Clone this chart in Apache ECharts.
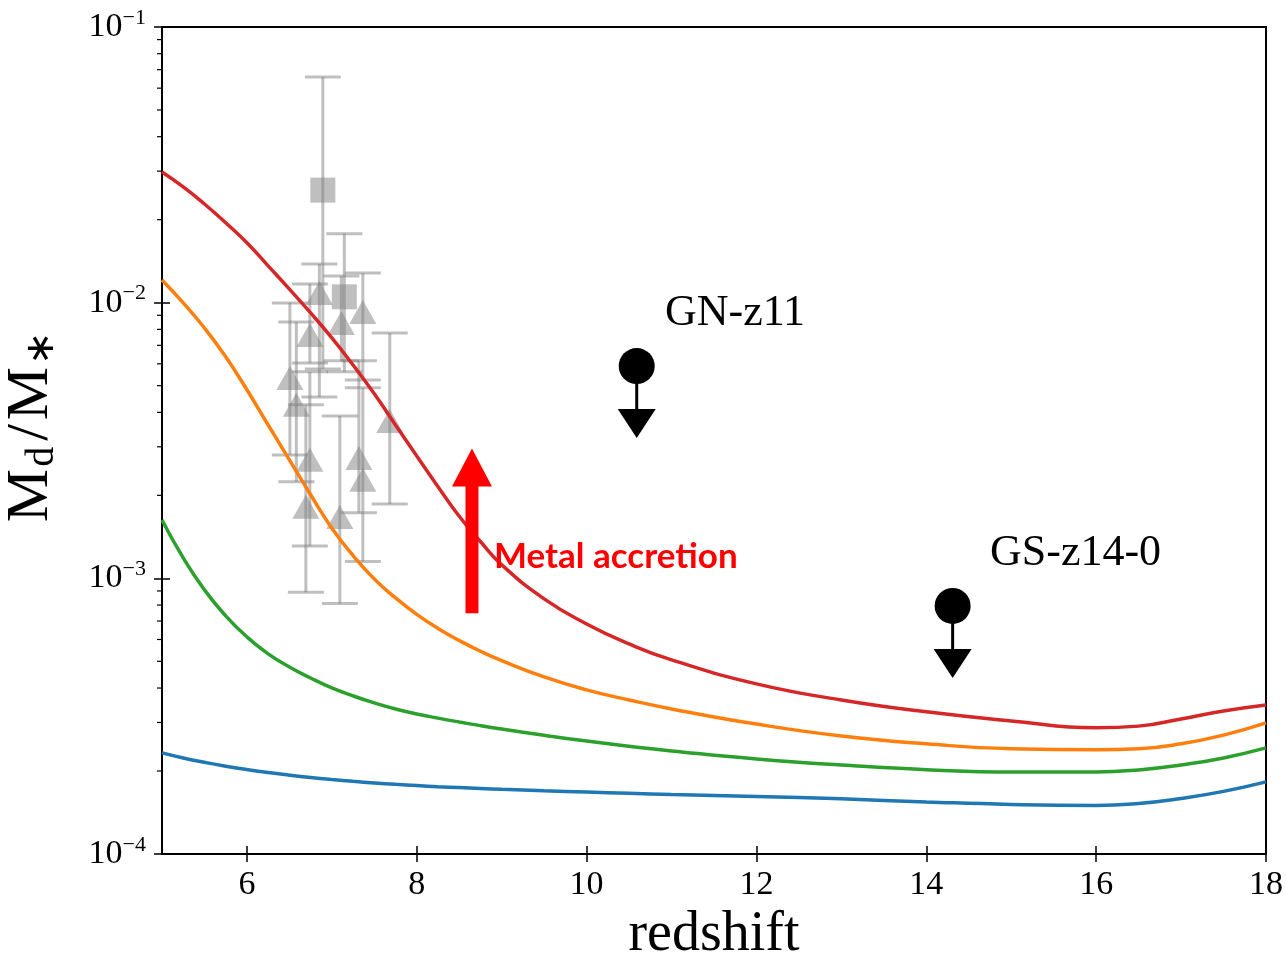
<!DOCTYPE html>
<html><head><meta charset="utf-8">
<script src="https://cdn.jsdelivr.net/npm/echarts@6/dist/echarts.min.js"></script>
<style>html,body{margin:0;padding:0;background:#fff}#c{width:1286px;height:956px}</style>
</head><body><div id="c"></div>
<script>
// ---------- data ----------
const redshift = [5, 5.25, 5.5, 5.75, 6, 6.25, 6.5, 6.75, 7, 7.25, 7.5, 7.75, 8, 8.25, 8.5, 8.75, 9, 9.5, 10, 10.5, 11, 12, 13, 14, 15, 16, 16.5, 17, 17.5, 18];
const modelBlue   = [2.327e-4, 2.231e-4, 2.151e-4, 2.082e-4, 2.024e-4, 1.974e-4, 1.932e-4, 1.895e-4, 1.863e-4, 1.835e-4, 1.811e-4, 1.789e-4, 1.771e-4, 1.755e-4, 1.741e-4, 1.728e-4, 1.716e-4, 1.695e-4, 1.677e-4, 1.660e-4, 1.644e-4, 1.618e-4, 1.585e-4, 1.545e-4, 1.513e-4, 1.501e-4, 1.526e-4, 1.591e-4, 1.687e-4, 1.826e-4];
const modelGreen  = [1.628e-3, 1.186e-3, 9.08e-4, 7.31e-4, 6.13e-4, 5.32e-4, 4.77e-4, 4.35e-4, 4.004e-4, 3.745e-4, 3.532e-4, 3.359e-4, 3.222e-4, 3.111e-4, 3.012e-4, 2.922e-4, 2.841e-4, 2.695e-4, 2.568e-4, 2.459e-4, 2.366e-4, 2.213e-4, 2.104e-4, 2.023e-4, 1.984e-4, 1.984e-4, 2.019e-4, 2.104e-4, 2.231e-4, 2.426e-4];
const modelOrange = [1.209e-2, 9.98e-3, 8.09e-3, 6.36e-3, 4.83e-3, 3.60e-3, 2.69e-3, 2.01e-3, 1.52e-3, 1.21e-3, 9.95e-4, 8.49e-4, 7.40e-4, 6.58e-4, 5.95e-4, 5.44e-4, 5.03e-4, 4.39e-4, 3.94e-4, 3.62e-4, 3.36e-4, 2.96e-4, 2.68e-4, 2.51e-4, 2.41e-4, 2.39e-4, 2.41e-4, 2.51e-4, 2.70e-4, 2.99e-4];
const modelRed    = [2.98e-2, 2.63e-2, 2.28e-2, 1.95e-2, 1.65e-2, 1.36e-2, 1.12e-2, 9.18e-3, 7.45e-3, 5.94e-3, 4.67e-3, 3.60e-3, 2.78e-3, 2.15e-3, 1.68e-3, 1.36e-3, 1.12e-3, 8.42e-4, 6.83e-4, 5.78e-4, 5.06e-4, 4.14e-4, 3.62e-4, 3.28e-4, 3.04e-4, 2.87e-4, 2.91e-4, 3.09e-4, 3.30e-4, 3.47e-4];

// observed galaxies (triangles)
const triZ   = [6.853, 7.365, 7.112, 6.741, 6.506, 6.582, 7.682, 6.741, 7.318, 7.365, 6.694, 7.094];
const triVal = [1.084e-2, 9.25e-3, 8.44e-3, 7.63e-3, 5.33e-3, 4.26e-3, 3.72e-3, 2.69e-3, 2.73e-3, 2.28e-3, 1.82e-3, 1.67e-3];
const triHi  = [1.381e-2, 1.281e-2, 1.250e-2, 1.169e-2, 9.98e-3, 8.51e-3, 7.76e-3, 5.61e-3, 6.15e-3, 4.91e-3, 4.26e-3, 3.88e-3];
const triLo  = [4.55e-3, 5.24e-3, 6.15e-3, 6.04e-3, 2.80e-3, 2.24e-3, 1.86e-3, 1.31e-3, 1.73e-3, 1.15e-3, 8.9e-4, 8.1e-4];
// observed galaxies (squares)
const sqZ   = [6.894, 7.147];
const sqVal = [2.56e-2, 1.05e-2];
const sqHi  = [6.59e-2, 1.78e-2];
const sqLo  = [5.75e-3, 5.61e-3];

// upper limits
const ulNames = ['GN-z11', 'GS-z14-0'];
const ulZ   = [10.59, 14.31];
const ulVal = [5.89e-3, 7.94e-4];

// metal accretion arrow
const arrowZ = [8.65];
const arrowFrom = [7.47e-4];
const arrowTo = [2.96e-3];

// ticks
const xTicks = [6, 8, 10, 12, 14, 16, 18];
const yMajor = [1e-4, 1e-3, 1e-2, 1e-1];
const minorMult = [2, 3, 4, 5, 6, 7, 8, 9];

// ---------- chart ----------
const SERIF = 'Liberation Serif';
const minorTicks = [];
yMajor.slice(0, 3).forEach(d => minorMult.forEach(m => minorTicks.push([5, m * d])));

const gray = 'rgba(128,128,128,0.5)';
const errData = [];
triZ.forEach((z, i) => errData.push([z, triLo[i], triHi[i]]));
sqZ.forEach((z, i) => errData.push([z, sqLo[i], sqHi[i]]));

const chart = echarts.init(document.getElementById('c'), null, {renderer: 'canvas'});

function yFmt(v) {
  const e = Math.round(Math.log10(v));
  return '{b|10}{s|\u2212' + (-e) + '}';
}

const xBase = {type: 'value', min: 5, max: 18, position: 'bottom', splitLine: {show: false}};
const yBase = {type: 'log', logBase: 10, min: 1e-4, max: 1e-1, position: 'left', splitLine: {show: false}};

function curve(name, vals, color) {
  return {type: 'line', name: name, z: 4, data: redshift.map((z, i) => [z, vals[i]]),
    smooth: 0.5, showSymbol: false, lineStyle: {color: color, width: 3.5}};
}

chart.setOption({
  animation: false,
  backgroundColor: '#fff',
  grid: {left: 162, right: 20, top: 27, bottom: 102, containLabel: false, outerBoundsMode: 'none',
         show: true, borderColor: '#000', borderWidth: 2, backgroundColor: 'transparent'},
  xAxis: [
    Object.assign({}, xBase, {
      axisLine: {show: true, lineStyle: {color: '#000', width: 2}},
      axisTick: {show: true, inside: false, length: 8, customValues: xTicks, lineStyle: {color: '#000', width: 1.5}},
      axisLabel: {customValues: xTicks, color: '#000', fontFamily: SERIF, fontSize: 34, margin: 14},
      name: 'redshift', nameLocation: 'middle', nameGap: 52,
      nameTextStyle: {color: '#000', fontFamily: SERIF, fontSize: 56}
    }),
    Object.assign({}, xBase, {
      axisLine: {show: false},
      axisTick: {show: true, inside: true, length: 8, customValues: xTicks, lineStyle: {color: '#000', width: 1.5}},
      axisLabel: {show: false}
    })
  ],
  yAxis: [
    Object.assign({}, yBase, {
      axisLine: {show: true, lineStyle: {color: '#000', width: 2}},
      axisTick: {show: true, inside: false, length: 8, lineStyle: {color: '#000', width: 1.5}},
      axisLabel: {
        formatter: yFmt, margin: 16,
        rich: {
          b: {fontFamily: SERIF, fontSize: 34, lineHeight: 40, color: '#000'},
          s: {fontFamily: SERIF, fontSize: 22, lineHeight: 22, verticalAlign: 'top', color: '#000'}
        }
      },
      name: '{m|M}{s|d}{sl|/}{m|M}{s|\u2217}', nameLocation: 'middle', nameGap: 100, nameRotate: 90,
      nameTextStyle: {
        padding: [0, 0, 0, 30],
        rich: {
          m: {fontFamily: SERIF, fontSize: 60, lineHeight: 62, color: '#000'},
          sl: {fontFamily: SERIF, fontSize: 60, lineHeight: 62, color: '#000', padding: [0, 4, 0, 4]},
          s: {fontFamily: SERIF, fontSize: 40, lineHeight: 40, verticalAlign: 'bottom', color: '#000', padding: [0, 2, 0, 2]}
        }
      }
    }),
    Object.assign({}, yBase, {
      axisLine: {show: false},
      axisTick: {show: true, inside: true, length: 8, lineStyle: {color: '#000', width: 1.5}},
      axisLabel: {show: false}
    })
  ],
  series: [
    {
      type: 'custom', name: 'errorbars', z: 2, clip: false,
      data: errData,
      renderItem: function (params, api) {
        const z = api.value(0);
        const lo = api.coord([z, api.value(1)]);
        const hi = api.coord([z, api.value(2)]);
        const cap = 18;
        const st = {stroke: gray, lineWidth: 3};
        return {type: 'group', children: [
          {type: 'line', shape: {x1: hi[0], y1: hi[1], x2: lo[0], y2: lo[1]}, style: st},
          {type: 'line', shape: {x1: hi[0] - cap, y1: hi[1], x2: hi[0] + cap, y2: hi[1]}, style: st},
          {type: 'line', shape: {x1: lo[0] - cap, y1: lo[1], x2: lo[0] + cap, y2: lo[1]}, style: st}
        ]};
      }
    },
    {
      type: 'scatter', name: 'triangles', z: 3, symbol: 'triangle', symbolSize: [27, 24],
      itemStyle: {color: gray, opacity: 1},
      data: triZ.map((z, i) => [z, triVal[i]])
    },
    {
      type: 'scatter', name: 'squares', z: 3, symbol: 'rect', symbolSize: 25,
      itemStyle: {color: gray, opacity: 1},
      data: sqZ.map((z, i) => [z, sqVal[i]])
    },
    curve('blue', modelBlue, '#1f77b4'),
    curve('orange', modelOrange, '#ff7f0e'),
    curve('green', modelGreen, '#2ca02c'),
    curve('red', modelRed, '#d62728'),
    {
      type: 'custom', name: 'upper limits', z: 5, clip: false,
      data: ulZ.map((z, i) => [z, ulVal[i]]),
      renderItem: function (params, api) {
        const p = api.coord([api.value(0), api.value(1)]);
        return {type: 'group', children: [
          {type: 'line', shape: {x1: p[0], y1: p[1], x2: p[0], y2: p[1] + 50}, style: {stroke: '#000', lineWidth: 3}},
          {type: 'polygon', shape: {points: [[p[0] - 19, p[1] + 43], [p[0] + 19, p[1] + 43], [p[0], p[1] + 72]]}, style: {fill: '#000'}},
          {type: 'circle', shape: {cx: p[0], cy: p[1], r: 18}, style: {fill: '#000'}}
        ]};
      }
    },
    {
      type: 'custom', name: 'arrow', z: 6, clip: false,
      data: arrowZ.map((z, i) => [z, arrowFrom[i], arrowTo[i]]),
      renderItem: function (params, api) {
        const p0 = api.coord([api.value(0), api.value(1)]);
        const p1 = api.coord([api.value(0), api.value(2)]);
        const headH = 38, headW = 40, shaftW = 13;
        return {type: 'group', children: [
          {type: 'rect', shape: {x: p0[0] - shaftW / 2, y: p1[1] + headH - 1, width: shaftW, height: p0[1] - p1[1] - headH + 1}, style: {fill: '#ff0000'}},
          {type: 'polygon', shape: {points: [[p1[0], p1[1]], [p1[0] - headW / 2, p1[1] + headH], [p1[0] + headW / 2, p1[1] + headH]]}, style: {fill: '#ff0000'}}
        ]};
      }
    },
    {
      type: 'custom', name: 'minor ticks', z: 7, clip: false, silent: true,
      data: minorTicks,
      renderItem: function (params, api) {
        const p = api.coord([api.value(0), api.value(1)]);
        return {type: 'line', shape: {x1: p[0] - 5, y1: p[1], x2: p[0], y2: p[1]}, style: {stroke: '#000', lineWidth: 1.2}};
      }
    }
  ],
  graphic: [
    {type: 'text', left: 665, top: 291, z: 10, style: {text: ulNames[0], fill: '#000', font: '44px "Liberation Serif"'}},
    {type: 'text', left: 990, top: 531, z: 10, style: {text: ulNames[1], fill: '#000', font: '44px "Liberation Serif"'}},
    {type: 'text', left: 494, top: 539, z: 10, style: {text: 'Metal accretion', fill: '#ff0000', font: 'bold 35px Lato'}}
  ]
});
</script>
</body></html>
